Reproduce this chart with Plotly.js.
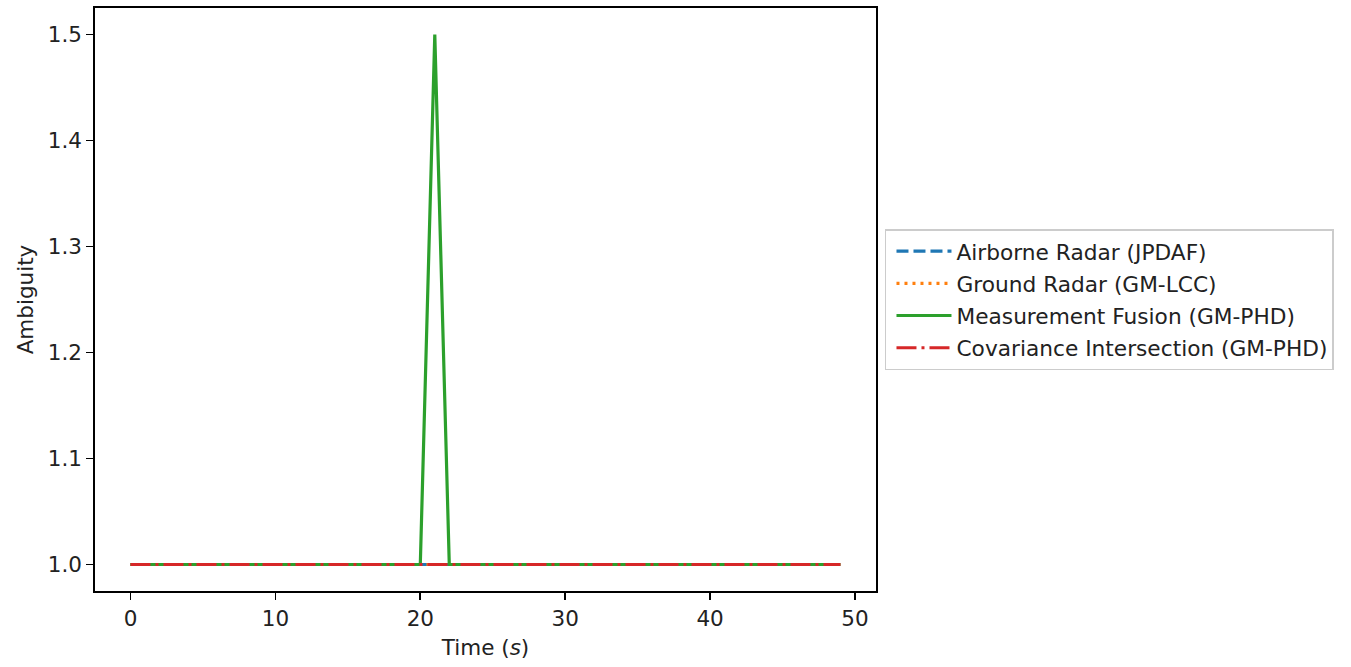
<!DOCTYPE html>
<html>
<head>
<meta charset="utf-8">
<script src="https://cdn.plot.ly/plotly-3.0.1.min.js"></script>
<style>html,body{margin:0;padding:0;background:#fff;}#chart{width:1351px;height:667px;}</style>
</head>
<body>
<div id="chart"></div>
<script>
const time = [0,1,2,3,4,5,6,7,8,9,10,11,12,13,14,15,16,17,18,19,20,21,22,23,24,25,26,27,28,29,30,31,32,33,34,35,36,37,38,39,40,41,42,43,44,45,46,47,48,49];
const airborneRadar = [1,1,1,1,1,1,1,1,1,1,1,1,1,1,1,1,1,1,1,1,1,1,1,1,1,1,1,1,1,1,1,1,1,1,1,1,1,1,1,1,1,1,1,1,1,1,1,1,1,1];
const groundRadar = [1,1,1,1,1,1,1,1,1,1,1,1,1,1,1,1,1,1,1,1,1,1,1,1,1,1,1,1,1,1,1,1,1,1,1,1,1,1,1,1,1,1,1,1,1,1,1,1,1,1];
const measurementFusion = [1,1,1,1,1,1,1,1,1,1,1,1,1,1,1,1,1,1,1,1,1,1.5,1,1,1,1,1,1,1,1,1,1,1,1,1,1,1,1,1,1,1,1,1,1,1,1,1,1,1,1];
const covIntersection = [1,1,1,1,1,1,1,1,1,1,1,1,1,1,1,1,1,1,1,1,1,1,1,1,1,1,1,1,1,1,1,1,1,1,1,1,1,1,1,1,1,1,1,1,1,1,1,1,1,1];
const seriesNames = ["Airborne Radar (JPDAF)","Ground Radar (GM-LCC)","Measurement Fusion (GM-PHD)","Covariance Intersection (GM-PHD)"];
const yTicks = [1.0,1.1,1.2,1.3,1.4,1.5];
const xTicks = [0,10,20,30,40,50];

const lw = 3.2;
const traces = [
  {x: time, y: airborneRadar, name: seriesNames[0], legendgroup: 'a', mode: 'lines', line: {color: '#1f77b4', width: lw, dash: '12px,5px'}},
  {x: time, y: groundRadar, name: seriesNames[1], legendgroup: 'b', mode: 'lines', line: {color: '#ff7f0e', width: lw, dash: '3px,5px'}},
  {x: time, y: measurementFusion, name: seriesNames[2], legendgroup: 'c', mode: 'lines', line: {color: '#2ca02c', width: lw}},
  {x: time, y: covIntersection, name: seriesNames[3], legendgroup: 'd', mode: 'lines', line: {color: '#d62728', width: lw, dash: '20px,5px,3px,5px'}}
];

const fontFam = 'DejaVu Sans, sans-serif';
const fs = 21.5;
const axisCommon = {
  showgrid: false, zeroline: false, showline: true, mirror: true,
  linecolor: '#000', linewidth: 1.7, ticks: 'outside', ticklen: 7, tickwidth: 1.7, tickcolor: '#000',
  tickfont: {family: fontFam, size: fs, color: '#222'}
};
const layout = {
  width: 1351, height: 667,
  margin: {l: 95, r: 475, t: 8, b: 76},
  paper_bgcolor: '#fff', plot_bgcolor: '#fff',
  font: {family: fontFam, color: '#222'},
  xaxis: Object.assign({}, axisCommon, {
    range: [-2.45, 51.45], tickvals: xTicks, ticktext: xTicks.map(String),
    title: {text: 'Time (<i>s</i>)', font: {family: fontFam, size: fs, color: '#222'}, standoff: 10}
  }),
  yaxis: Object.assign({}, axisCommon, {
    range: [0.975, 1.525], tickvals: yTicks, ticktext: yTicks.map(v => v.toFixed(1)),
    title: {text: 'Ambiguity', font: {family: fontFam, size: fs, color: '#222'}, standoff: 8}
  }),
  showlegend: true,
  legend: {
    x: 1.0115, xanchor: 'left', y: 0.5, yanchor: 'middle',
    bgcolor: '#fff', bordercolor: '#cccccc', borderwidth: 1.5,
    font: {family: fontFam, size: 21.7, color: '#222'},
    itemwidth: 55, indentation: 5, tracegroupgap: 1, traceorder: 'grouped'
  }
};
Plotly.newPlot('chart', traces, layout, {displayModeBar: false, staticPlot: true});
</script>
</body>
</html>
